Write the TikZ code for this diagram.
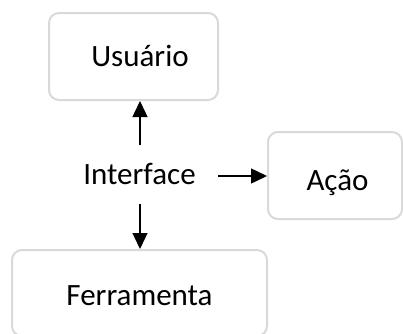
\documentclass[tikz,border=0pt]{standalone}
\usepackage{fontspec}
\setmainfont{Carlito}
\usetikzlibrary{arrows.meta}
\definecolor{boxgray}{HTML}{D9D9D9}
\begin{document}
\begin{tikzpicture}[x=1pt,y=-1pt,
  box/.style={draw=boxgray, line width=2pt, rounded corners=10pt, inner sep=0pt},
  lbl/.style={inner sep=0pt, anchor=base, font=\fontsize{31}{37}\selectfont},
  arr/.style={line width=1.4pt, -{Triangle[length=16pt,width=15pt]}}]
\useasboundingbox (0,0) rectangle (403,333);
\clip (0,0) rectangle (403,333);
\node[box, minimum width=169pt, minimum height=87pt] (Usuario) at (133.5,56.5) {};
\node[box, minimum width=134pt, minimum height=87pt] (Acao) at (335,175.5) {};
\node[box, minimum width=255pt, minimum height=86pt] (Ferramenta) at (139.5,293) {};
\node[lbl] (tUsuario) at (140,66) {Usuário};
\node[lbl] (tAcao) at (337.5,190) {Ação};
\node[lbl] (tFerramenta) at (139.5,305) {Ferramenta};
\node[lbl] (Interface) at (139.5,184.5) {Interface};
\coordinate (ic) at (140,176);
\draw[arr, shorten <=31pt] (ic) -- (ic |- Usuario.south);
\draw[arr, shorten <=28pt] (ic) -- (ic |- Ferramenta.north);
\draw[arr, shorten <=78pt] (ic) -- (ic -| Acao.west);
\end{tikzpicture}
\end{document}
